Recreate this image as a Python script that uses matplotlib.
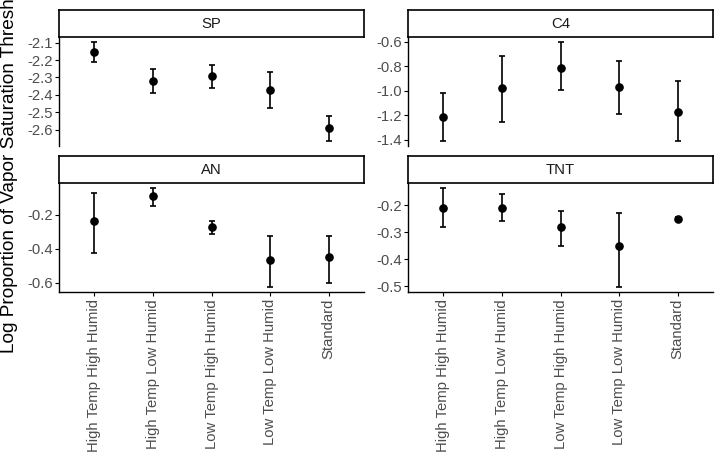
import numpy as np
import matplotlib
matplotlib.use('Agg')
import matplotlib.pyplot as plt

plt.rcParams['font.family'] = ['Liberation Sans', 'DejaVu Sans']

conditions = ['High Temp High Humid', 'High Temp Low Humid', 'Low Temp High Humid',
              'Low Temp Low Humid', 'Standard']

# 每个面板: 均值, 误差上限, 误差下限
sp_mean = [-2.154, -2.321, -2.292, -2.373, -2.592]
sp_hi = [-2.096, -2.254, -2.228, -2.269, -2.519]
sp_lo = [-2.212, -2.388, -2.360, -2.477, -2.665]

c4_mean = [-1.212, -0.975, -0.815, -0.970, -1.177]
c4_hi = [-1.017, -0.716, -0.600, -0.755, -0.920]
c4_lo = [-1.408, -1.257, -0.997, -1.193, -1.411]

an_mean = [-0.235, -0.093, -0.271, -0.464, -0.450]
an_hi = [-0.072, -0.044, -0.235, -0.327, -0.327]
an_lo = [-0.423, -0.150, -0.312, -0.624, -0.602]

tnt_mean = [-0.211, -0.210, -0.279, -0.351, -0.250]
tnt_hi = [-0.135, -0.159, -0.220, -0.229, -0.243]
tnt_lo = [-0.279, -0.258, -0.351, -0.503, -0.258]

panels = [
    ('SP', sp_mean, sp_hi, sp_lo, np.arange(-2.6, -2.05, 0.1)),
    ('C4', c4_mean, c4_hi, c4_lo, np.arange(-1.4, -0.55, 0.2)),
    ('AN', an_mean, an_hi, an_lo, np.arange(-0.6, -0.15, 0.2)),
    ('TNT', tnt_mean, tnt_hi, tnt_lo, np.arange(-0.5, -0.15, 0.1)),
]

W, H = 716, 457
fig = plt.figure(figsize=(W / 100, H / 100), dpi=100)

# 面板位置 (像素)
lefts = [59, 408, 59, 408]
tops = [37, 37, 183, 183]
pw, ph, sh = 305, 109, 27

for i, (name, m, hi, lo, ticks) in enumerate(panels):
    x0, y0 = lefts[i], tops[i]
    ax = fig.add_axes([x0 / W, 1 - (y0 + ph) / H, pw / W, ph / H])
    x = np.arange(len(conditions))
    m = np.array(m); hi = np.array(hi); lo = np.array(lo)
    ax.errorbar(x, m, yerr=[m - lo, hi - m], fmt='o', color='black',
                ms=5.2, elinewidth=1.2, capsize=2.5, capthick=1.2)
    rng = hi.max() - lo.min()
    ax.set_ylim(lo.min() - 0.05 * rng, hi.max() + 0.05 * rng)
    ax.set_xlim(-0.6, 4.6)
    ax.set_yticks(ticks)
    ax.set_yticklabels(['%.1f' % t for t in ticks])
    for s in ['top', 'right']:
        ax.spines[s].set_visible(False)
    ax.spines['left'].set_linewidth(1.0)
    ax.spines['bottom'].set_linewidth(1.0)
    ax.tick_params(axis='y', length=3, width=0.8, labelsize=10.7, labelcolor='#4D4D4D', pad=1.5)
    if i < 2:
        ax.spines['bottom'].set_visible(False)
        ax.set_xticks([])
    else:
        ax.set_xticks(x)
        ax.set_xticklabels(conditions, rotation=90)
        ax.tick_params(axis='x', length=3, width=0.8, labelsize=10.7, labelcolor='#4D4D4D', pad=2)

    # 分面标题条
    sax = fig.add_axes([x0 / W, 1 - y0 / H, pw / W, sh / H])
    sax.set_xticks([]); sax.set_yticks([])
    for s in sax.spines.values():
        s.set_linewidth(1.2)
        s.set_color('black')
    sax.text(0.5, 0.5, name, ha='center', va='center', fontsize=10.7,
             color='#1A1A1A', transform=sax.transAxes)

fig.text(10 / W, 1 - 163 / H, 'Log Proportion of Vapor Saturation Threshold',
         rotation=90, ha='center', va='center', fontsize=13.7)

plt.savefig('out.png', dpi=100)
